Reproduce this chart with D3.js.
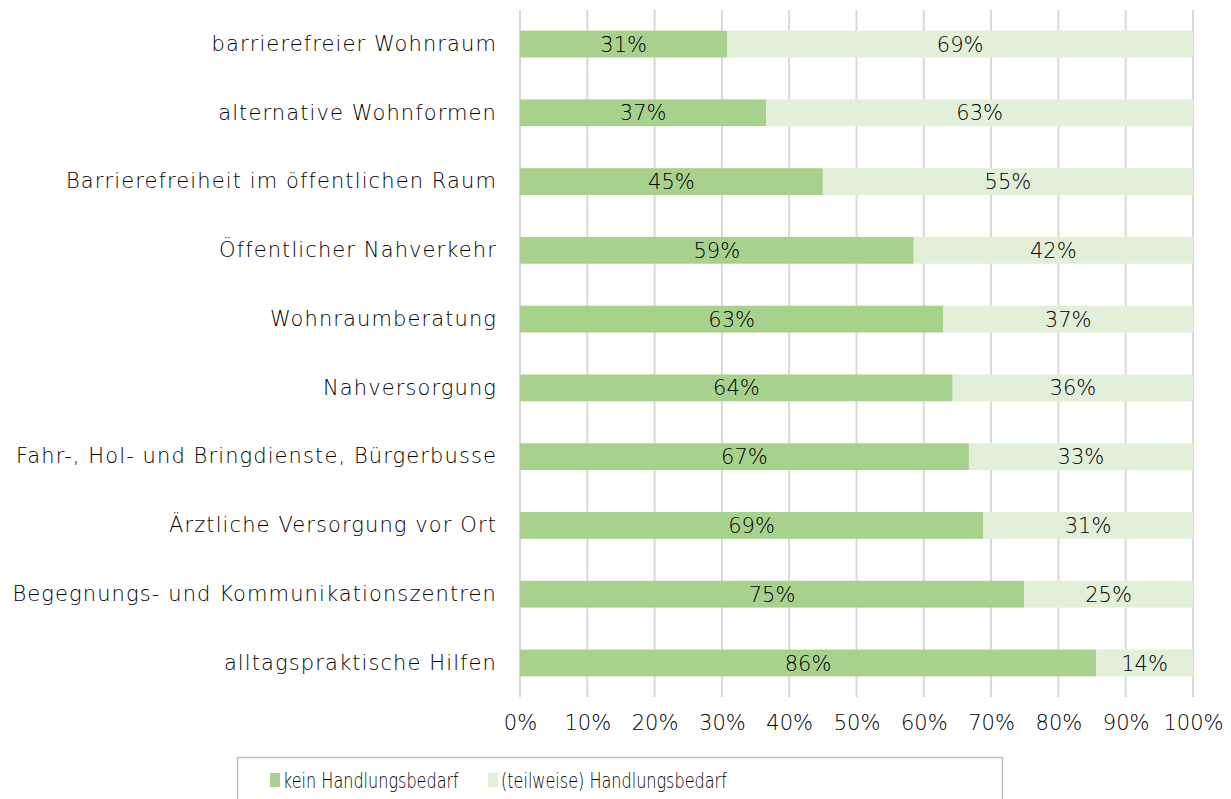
<!DOCTYPE html>
<html>
<head>
<meta charset="utf-8">
<script src="https://cdn.jsdelivr.net/npm/d3@7"></script>
<style>
  body { margin: 0; background: #fff; }
  text { font-family: "DejaVu Sans", sans-serif; font-weight: 200; fill: #000; }
</style>
</head>
<body>
<div id="chart"></div>
<script>
// Data
var categories = [
  'barrierefreier Wohnraum',
  'alternative Wohnformen',
  'Barrierefreiheit im öffentlichen Raum',
  'Öffentlicher Nahverkehr',
  'Wohnraumberatung',
  'Nahversorgung',
  'Fahr-, Hol- und Bringdienste, Bürgerbusse',
  'Ärztliche Versorgung vor Ort',
  'Begegnungs- und Kommunikationszentren',
  'alltagspraktische Hilfen'
];
var keinValues = [30.8, 36.6, 45.0, 58.5, 62.9, 64.3, 66.7, 68.8, 74.9, 85.6];
var teilValues = [69.2, 63.4, 55.0, 41.5, 37.1, 35.7, 33.3, 31.2, 25.1, 14.4];
var keinLabels = ['31%', '37%', '45%', '59%', '63%', '64%', '67%', '69%', '75%', '86%'];
var teilLabels = ['69%', '63%', '55%', '42%', '37%', '36%', '33%', '31%', '25%', '14%'];
var seriesNames = ['kein Handlungsbedarf', '(teilweise) Handlungsbedarf'];
var tickValues = [0, 10, 20, 30, 40, 50, 60, 70, 80, 90, 100];

var colors = ['#a9d18e', '#e2f0d9'];
var fontSize = '21px';
var fontFamily = '"DejaVu Sans", sans-serif';

var width = 1231, height = 799;
var margin = { top: 10, bottom: 100, left: 520, right: 38 };

var svg = d3.select('#chart')
  .append('svg')
  .attr('width', width)
  .attr('height', height);

// Scales
var xScale = d3.scaleLinear()
  .domain([0, 100])
  .range([margin.left, width - margin.right]);

var yScale = d3.scaleBand()
  .domain(categories)
  .range([margin.top, height - margin.bottom - 2])
  .paddingInner(0.61)
  .paddingOuter(0.3);

// Grid
svg.append('g')
  .selectAll('line')
  .data(tickValues)
  .enter()
  .append('line')
  .attr('x1', function(d) { return xScale(d); })
  .attr('x2', function(d) { return xScale(d); })
  .attr('y1', margin.top)
  .attr('y2', height - margin.bottom - 2)
  .attr('stroke', '#d9d9d9')
  .attr('stroke-width', 2);

// Stack
var rows = categories.map(function(c, i) {
  return { cat: c, kein: keinValues[i], teil: teilValues[i], kl: keinLabels[i], tl: teilLabels[i] };
});
var stack = d3.stack().keys(['kein', 'teil'])(rows);
var labelKeys = { kein: 'kl', teil: 'tl' };

var layers = svg.selectAll('g.layer')
  .data(stack)
  .enter()
  .append('g')
  .attr('class', 'layer')
  .attr('fill', function(d, i) { return colors[i]; });

layers.selectAll('rect')
  .data(function(d) { return d; })
  .enter()
  .append('rect')
  .attr('x', function(d) { return xScale(d[0]); })
  .attr('y', function(d) { return yScale(d.data.cat); })
  .attr('width', function(d) { return xScale(d[1]) - xScale(d[0]); })
  .attr('height', yScale.bandwidth());

layers.each(function(layer) {
  d3.select(this).selectAll('text')
    .data(layer)
    .enter()
    .append('text')
    .attr('x', function(d) { return (xScale(d[0]) + xScale(d[1])) / 2; })
    .attr('y', function(d) { return yScale(d.data.cat) + yScale.bandwidth() / 2; })
    .attr('dy', '0.36em')
    .attr('text-anchor', 'middle')
    .style('font-size', fontSize)
    .text(function(d) { return d.data[labelKeys[layer.key]]; });
});

// Category labels
var yAxis = svg.append('g')
  .attr('transform', 'translate(' + margin.left + ',0)')
  .call(d3.axisLeft(yScale).tickSize(0).tickPadding(23));
yAxis.select('.domain').remove();
yAxis.selectAll('text')
  .style('font-size', fontSize)
  .style('font-family', fontFamily)
  .style('font-weight', 200)
  .style('letter-spacing', '1.1px')
  .attr('fill', '#000');

// X axis labels
var xAxis = svg.append('g')
  .attr('transform', 'translate(0,' + (height - margin.bottom - 2) + ')')
  .call(d3.axisBottom(xScale).tickValues(tickValues).tickSize(0).tickPadding(18)
    .tickFormat(function(d) { return d + '%'; }));
xAxis.select('.domain').remove();
xAxis.selectAll('text')
  .style('font-size', fontSize)
  .style('font-family', fontFamily)
  .style('font-weight', 200)
  .attr('fill', '#000');

// Legend (text is horizontally condensed in the original)
var legend = svg.append('g');
legend.append('rect')
  .attr('x', 237.5)
  .attr('y', 757.5)
  .attr('width', 765)
  .attr('height', 60)
  .attr('fill', 'none')
  .attr('stroke', '#bfbfbf')
  .attr('stroke-width', 1.5);

var legendX = [270, 488];
var items = legend.selectAll('g.item')
  .data(seriesNames)
  .enter()
  .append('g')
  .attr('class', 'item')
  .attr('transform', function(d, i) { return 'translate(' + legendX[i] + ',773)'; });
items.append('rect')
  .attr('width', 10)
  .attr('height', 14)
  .attr('fill', function(d, i) { return colors[i]; });
items.append('text')
  .attr('transform', 'translate(13,7) scale(0.73,1)')
  .attr('dy', '0.36em')
  .style('font-size', '22px')
  .text(function(d) { return d; });
</script>
</body>
</html>
